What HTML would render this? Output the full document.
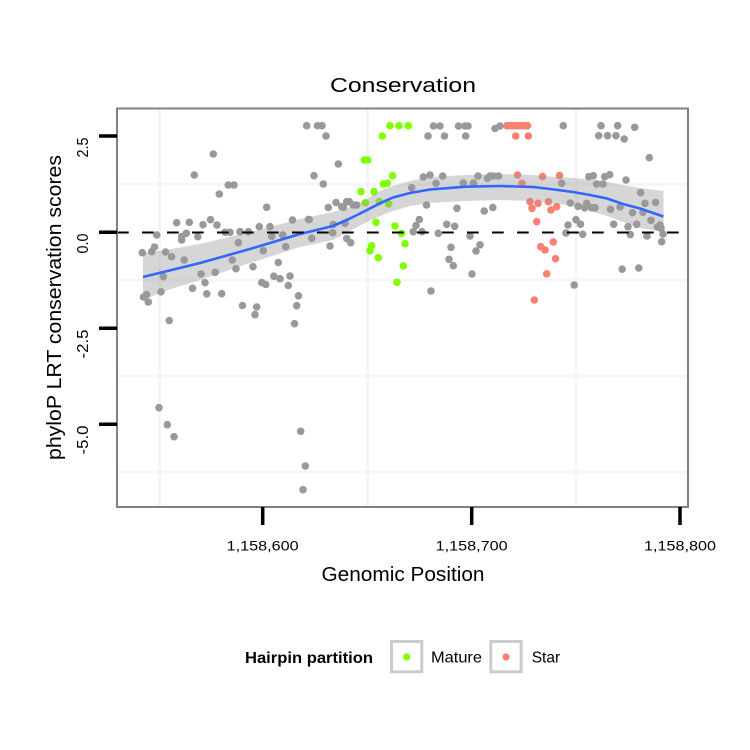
<!DOCTYPE html>
<html>
<head>
<meta charset="utf-8">
<style>
html,body{margin:0;padding:0;background:#fff;}
svg{display:block;}
text{font-family:"Liberation Sans",Arial,sans-serif;fill:#000;}
</style>
</head>
<body>
<svg width="750" height="750" viewBox="0 0 750 750" xmlns="http://www.w3.org/2000/svg">
<rect x="0" y="0" width="750" height="750" fill="#fff"/>
<!-- panel -->
<rect x="117" y="108" width="571" height="399" fill="#fff"/>
<!-- minor grid -->
<g stroke="#f5f5f5" stroke-width="3">
<line x1="159.5" y1="109" x2="159.5" y2="506"/>
<line x1="367.5" y1="109" x2="367.5" y2="506"/>
<line x1="576" y1="109" x2="576" y2="506"/>
<line x1="118" y1="184.3" x2="687" y2="184.3"/>
<line x1="118" y1="280.3" x2="687" y2="280.3"/>
<line x1="118" y1="376.3" x2="687" y2="376.3"/>
<line x1="118" y1="472.3" x2="687" y2="472.3"/>
</g>
<!-- gray points -->
<g fill="#999999">
<circle cx="142.3" cy="252.7" r="3.8"/><circle cx="151.7" cy="251.7" r="3.8"/><circle cx="154.5" cy="247" r="3.8"/><circle cx="156.7" cy="235" r="3.8"/><circle cx="165.5" cy="252" r="3.8"/><circle cx="171.5" cy="256.7" r="3.8"/>
<circle cx="176.7" cy="222.7" r="3.8"/><circle cx="189.3" cy="222.3" r="3.8"/><circle cx="203" cy="224.7" r="3.8"/><circle cx="210.5" cy="219.7" r="3.8"/><circle cx="217" cy="225" r="3.8"/>
<circle cx="181.7" cy="236.5" r="3.8"/><circle cx="186.3" cy="233.3" r="3.8"/><circle cx="181.7" cy="240" r="3.8"/><circle cx="197.8" cy="236.7" r="3.8"/>
<circle cx="213.3" cy="154" r="3.8"/><circle cx="194.3" cy="175" r="3.8"/><circle cx="228.3" cy="185" r="3.8"/><circle cx="234" cy="185" r="3.8"/><circle cx="219.3" cy="194" r="3.8"/>
<circle cx="225" cy="232.3" r="3.8"/><circle cx="230" cy="232.3" r="3.8"/><circle cx="240" cy="231.7" r="3.8"/><circle cx="248.3" cy="231.7" r="3.8"/><circle cx="259.3" cy="226.7" r="3.8"/><circle cx="270" cy="226.7" r="3.8"/><circle cx="271.7" cy="236.3" r="3.8"/><circle cx="282.7" cy="235" r="3.8"/><circle cx="285.7" cy="246.7" r="3.8"/>
<circle cx="238.3" cy="242.7" r="3.8"/><circle cx="263.3" cy="250.7" r="3.8"/><circle cx="266.7" cy="207.3" r="3.8"/><circle cx="292.5" cy="220" r="3.8"/><circle cx="308.5" cy="219.5" r="3.8"/>
<circle cx="184.2" cy="260" r="3.8"/><circle cx="232.3" cy="260" r="3.8"/><circle cx="278.3" cy="262.5" r="3.8"/>
<circle cx="236" cy="268.7" r="3.8"/><circle cx="253" cy="266.7" r="3.8"/>
<circle cx="163.3" cy="276.7" r="3.8"/><circle cx="201" cy="274" r="3.8"/><circle cx="215.2" cy="272.3" r="3.8"/><circle cx="273.8" cy="276.2" r="3.8"/><circle cx="280" cy="278.7" r="3.8"/><circle cx="290" cy="276" r="3.8"/>
<circle cx="205" cy="282.7" r="3.8"/><circle cx="261.7" cy="282.5" r="3.8"/><circle cx="265.7" cy="284.5" r="3.8"/><circle cx="288.3" cy="285.5" r="3.8"/>
<circle cx="192.5" cy="288.3" r="3.8"/><circle cx="161" cy="291.8" r="3.8"/><circle cx="206.8" cy="293.8" r="3.8"/><circle cx="221.7" cy="293.7" r="3.8"/>
<circle cx="146.5" cy="294.5" r="3.8"/><circle cx="143.5" cy="297" r="3.8"/><circle cx="148.3" cy="302" r="3.8"/><circle cx="298.5" cy="295.8" r="3.8"/>
<circle cx="242.5" cy="305.5" r="3.8"/><circle cx="256.7" cy="307" r="3.8"/><circle cx="255" cy="314.7" r="3.8"/><circle cx="296.7" cy="305.7" r="3.8"/>
<circle cx="169.2" cy="320.5" r="3.8"/><circle cx="294.5" cy="323.7" r="3.8"/>
<circle cx="159" cy="407.7" r="3.8"/><circle cx="167.3" cy="424.7" r="3.8"/><circle cx="174" cy="436.7" r="3.8"/><circle cx="300.7" cy="431.3" r="3.8"/><circle cx="305.3" cy="466" r="3.8"/><circle cx="303" cy="489.7" r="3.8"/>
<circle cx="306.7" cy="125.7" r="3.8"/><circle cx="317.5" cy="125.7" r="3.8"/><circle cx="322" cy="125.7" r="3.8"/><circle cx="326" cy="136" r="3.8"/><circle cx="338.3" cy="164" r="3.8"/><circle cx="314" cy="175.7" r="3.8"/><circle cx="323.3" cy="184" r="3.8"/>
<circle cx="336" cy="202.5" r="3.8"/><circle cx="341.7" cy="206.7" r="3.8"/><circle cx="343.3" cy="207.5" r="3.8"/><circle cx="349.3" cy="201.7" r="3.8"/><circle cx="353.3" cy="205" r="3.8"/><circle cx="356.7" cy="205" r="3.8"/><circle cx="328.3" cy="207.5" r="3.8"/><circle cx="346.7" cy="201.7" r="3.8"/>
<circle cx="309.3" cy="219.5" r="3.8"/><circle cx="333.3" cy="224.5" r="3.8"/><circle cx="345" cy="223.3" r="3.8"/><circle cx="332.7" cy="232.7" r="3.8"/><circle cx="311.7" cy="238.3" r="3.8"/><circle cx="346.7" cy="238.5" r="3.8"/><circle cx="350.7" cy="242.7" r="3.8"/><circle cx="330" cy="246" r="3.8"/>
<circle cx="419.3" cy="219.5" r="3.8"/><circle cx="416" cy="225.5" r="3.8"/><circle cx="413.3" cy="231.7" r="3.8"/><circle cx="422" cy="231.7" r="3.8"/><circle cx="426.5" cy="205" r="3.8"/><circle cx="431" cy="291" r="3.8"/>
<circle cx="433.5" cy="126" r="3.8"/><circle cx="440" cy="126" r="3.8"/><circle cx="458.5" cy="126" r="3.8"/><circle cx="465" cy="126" r="3.8"/><circle cx="468" cy="126" r="3.8"/><circle cx="495" cy="128.5" r="3.8"/><circle cx="500" cy="126" r="3.8"/>
<circle cx="428" cy="136" r="3.8"/><circle cx="444.5" cy="136" r="3.8"/><circle cx="465.7" cy="136" r="3.8"/>
<circle cx="423.3" cy="177" r="3.8"/><circle cx="430" cy="175" r="3.8"/><circle cx="442.7" cy="176" r="3.8"/><circle cx="436" cy="183.3" r="3.8"/><circle cx="463.3" cy="183" r="3.8"/><circle cx="473.5" cy="183" r="3.8"/><circle cx="478" cy="176" r="3.8"/><circle cx="487.5" cy="178.3" r="3.8"/><circle cx="493.3" cy="176" r="3.8"/><circle cx="498.5" cy="176" r="3.8"/><circle cx="490" cy="176" r="3.8"/>
<circle cx="411.7" cy="187.7" r="3.8"/><circle cx="457" cy="208.3" r="3.8"/><circle cx="484.2" cy="211" r="3.8"/><circle cx="492.8" cy="207.5" r="3.8"/>
<circle cx="446.7" cy="224.3" r="3.8"/><circle cx="454.7" cy="226.3" r="3.8"/><circle cx="438.3" cy="233.3" r="3.8"/><circle cx="470" cy="236" r="3.8"/>
<circle cx="480" cy="244.8" r="3.8"/><circle cx="476" cy="251" r="3.8"/><circle cx="451" cy="247.3" r="3.8"/><circle cx="449" cy="259.3" r="3.8"/><circle cx="453.3" cy="265.7" r="3.8"/><circle cx="472" cy="274" r="3.8"/>
<circle cx="563.3" cy="125.7" r="3.8"/><circle cx="601" cy="125.7" r="3.8"/><circle cx="617.7" cy="125.7" r="3.8"/><circle cx="634.7" cy="127.3" r="3.8"/><circle cx="598.7" cy="135.7" r="3.8"/><circle cx="607.5" cy="135.7" r="3.8"/><circle cx="616" cy="135.7" r="3.8"/><circle cx="624.2" cy="139" r="3.8"/><circle cx="649.3" cy="157.7" r="3.8"/>
<circle cx="588.8" cy="176.7" r="3.8"/><circle cx="593.3" cy="175.8" r="3.8"/><circle cx="604.7" cy="176.7" r="3.8"/><circle cx="609.7" cy="174.7" r="3.8"/><circle cx="596.7" cy="184" r="3.8"/><circle cx="603" cy="184" r="3.8"/><circle cx="626" cy="180" r="3.8"/><circle cx="640.7" cy="192.7" r="3.8"/><circle cx="561.7" cy="183.3" r="3.8"/>
<circle cx="570.3" cy="203" r="3.8"/><circle cx="578" cy="206.3" r="3.8"/><circle cx="584.7" cy="207.8" r="3.8"/><circle cx="586.7" cy="203.3" r="3.8"/><circle cx="591.7" cy="207.7" r="3.8"/><circle cx="595" cy="207.7" r="3.8"/><circle cx="610.5" cy="209.3" r="3.8"/><circle cx="620" cy="207" r="3.8"/><circle cx="632.5" cy="212.7" r="3.8"/><circle cx="643" cy="212.3" r="3.8"/><circle cx="645" cy="203.3" r="3.8"/><circle cx="655.5" cy="202.5" r="3.8"/>
<circle cx="576" cy="219.7" r="3.8"/><circle cx="580.5" cy="224.2" r="3.8"/><circle cx="568" cy="225" r="3.8"/><circle cx="613.7" cy="224.2" r="3.8"/><circle cx="628" cy="226.7" r="3.8"/><circle cx="636.7" cy="224.3" r="3.8"/><circle cx="651" cy="220.3" r="3.8"/><circle cx="657.5" cy="227" r="3.8"/><circle cx="661" cy="228.3" r="3.8"/><circle cx="660" cy="225" r="3.8"/>
<circle cx="566" cy="233" r="3.8"/><circle cx="582.7" cy="234.3" r="3.8"/><circle cx="630.3" cy="234.6" r="3.8"/><circle cx="647" cy="236" r="3.8"/><circle cx="663" cy="234" r="3.8"/><circle cx="661.7" cy="241.7" r="3.8"/>
<circle cx="622.2" cy="269.2" r="3.8"/><circle cx="638.8" cy="268" r="3.8"/><circle cx="574.2" cy="285" r="3.8"/>
</g>
<!-- green points -->
<g fill="#7FFF00">
<circle cx="390" cy="125.7" r="3.8"/><circle cx="399" cy="125.7" r="3.8"/><circle cx="408.3" cy="125.7" r="3.8"/><circle cx="382.3" cy="136" r="3.8"/><circle cx="364.3" cy="160" r="3.8"/><circle cx="367.7" cy="160" r="3.8"/><circle cx="392.7" cy="175.7" r="3.8"/><circle cx="383.3" cy="184" r="3.8"/><circle cx="387.3" cy="183.3" r="3.8"/><circle cx="361" cy="191.7" r="3.8"/><circle cx="374" cy="191.7" r="3.8"/><circle cx="365.3" cy="202.7" r="3.8"/><circle cx="379.3" cy="201.7" r="3.8"/><circle cx="388.7" cy="204" r="3.8"/><circle cx="376" cy="222.3" r="3.8"/><circle cx="395" cy="226" r="3.8"/><circle cx="401.5" cy="233.3" r="3.8"/><circle cx="405" cy="243.7" r="3.8"/><circle cx="371.7" cy="245.7" r="3.8"/><circle cx="370" cy="250.7" r="3.8"/><circle cx="378.3" cy="257.7" r="3.8"/><circle cx="403.3" cy="266" r="3.8"/><circle cx="397" cy="282.3" r="3.8"/>
</g>
<!-- salmon points -->
<g fill="#FA8072">
<circle cx="507" cy="125.7" r="3.8"/><circle cx="510" cy="125.7" r="3.8"/><circle cx="513" cy="125.7" r="3.8"/><circle cx="516" cy="125.7" r="3.8"/><circle cx="519" cy="125.7" r="3.8"/><circle cx="522" cy="125.7" r="3.8"/><circle cx="525" cy="125.7" r="3.8"/><circle cx="527.5" cy="125.7" r="3.8"/>
<circle cx="515.7" cy="136" r="3.8"/><circle cx="528.3" cy="136" r="3.8"/>
<circle cx="517.5" cy="175" r="3.8"/><circle cx="542.5" cy="176.5" r="3.8"/><circle cx="559.5" cy="175.5" r="3.8"/><circle cx="522" cy="183.3" r="3.8"/>
<circle cx="530" cy="201.7" r="3.8"/><circle cx="538" cy="203.3" r="3.8"/><circle cx="548.5" cy="201.7" r="3.8"/><circle cx="556.7" cy="206.7" r="3.8"/><circle cx="532" cy="208.3" r="3.8"/><circle cx="551" cy="210" r="3.8"/>
<circle cx="536.7" cy="221.7" r="3.8"/>
<circle cx="540.7" cy="246.7" r="3.8"/><circle cx="545" cy="250" r="3.8"/><circle cx="553.3" cy="242" r="3.8"/><circle cx="555.5" cy="258.7" r="3.8"/><circle cx="546.7" cy="273.8" r="3.8"/><circle cx="534.3" cy="300" r="3.8"/>
</g>
<!-- ribbon -->
<path d="M143,253 L165,250 L200,244 L250,232 L300,219 L333,212 L350,207 L367,199 L380,191 L393,186 L410,181 L430,177 L466,175 L500,174 L533,175 L550,176.5 L573,178 L590,179.5 L607,182 L623,185 L640,188 L663.5,191 L663.5,232 L640,228 L623,222 L607,216 L590,211 L573,206 L550,203 L533,201 L500,200 L466,201 L430,203 L410,206 L393,211 L380,216 L367,222 L350,231 L333,240 L300,247 L250,263 L200,280 L165,291 L143,300 Z" fill="#999999" fill-opacity="0.4"/>
<!-- smooth line -->
<polyline points="143,277 200,263 250,249 300,234 333,226 350,218.5 367,210 380,203.3 393,197.5 410,193 430,189.5 466,186.7 500,186 533,187 550,189 573,192 590,195 607,198.5 623,204 640,208.5 663.5,216.5" fill="none" stroke="#3366FF" stroke-width="2.6" stroke-linejoin="round"/>
<!-- dashed hline -->
<line x1="117" y1="232.5" x2="688" y2="232.5" stroke="#000" stroke-width="2" stroke-dasharray="11.7,13.3"/>
<!-- panel border -->
<rect x="117" y="108.5" width="571" height="398.5" fill="none" stroke="#808080" stroke-width="2"/>
<!-- y ticks -->
<g stroke="#000" stroke-width="3.5">
<line x1="99" y1="136" x2="117" y2="136"/>
<line x1="99" y1="232.3" x2="117" y2="232.3"/>
<line x1="99" y1="328.3" x2="117" y2="328.3"/>
<line x1="99" y1="424.3" x2="117" y2="424.3"/>
</g>
<!-- x ticks -->
<g stroke="#000" stroke-width="3.5">
<line x1="262.7" y1="507" x2="262.7" y2="525"/>
<line x1="471.7" y1="507" x2="471.7" y2="525"/>
<line x1="680" y1="507" x2="680" y2="525"/>
</g>
<!-- y tick labels -->
<g font-size="16" text-anchor="end">
<text transform="translate(88,137.5) rotate(-90)" textLength="20" lengthAdjust="spacingAndGlyphs">2.5</text>
<text transform="translate(88,233.5) rotate(-90)" textLength="20" lengthAdjust="spacingAndGlyphs">0.0</text>
<text transform="translate(88,329.5) rotate(-90)" textLength="29" lengthAdjust="spacingAndGlyphs">-2.5</text>
<text transform="translate(88,425.5) rotate(-90)" textLength="29" lengthAdjust="spacingAndGlyphs">-5.0</text>
</g>
<!-- x tick labels -->
<g font-size="14" text-anchor="middle">
<text x="262.7" y="550.5" textLength="72" lengthAdjust="spacingAndGlyphs">1,158,600</text>
<text x="471.7" y="550.5" textLength="72" lengthAdjust="spacingAndGlyphs">1,158,700</text>
<text x="680" y="550.5" textLength="72" lengthAdjust="spacingAndGlyphs">1,158,800</text>
</g>
<!-- axis titles -->
<text x="403" y="581" font-size="20" text-anchor="middle" textLength="163" lengthAdjust="spacingAndGlyphs">Genomic Position</text>
<text transform="translate(61,307.5) rotate(-90)" font-size="20.5" text-anchor="middle" textLength="305" lengthAdjust="spacingAndGlyphs">phyloP LRT conservation scores</text>
<!-- title -->
<text x="403" y="92" font-size="20" text-anchor="middle" textLength="146" lengthAdjust="spacingAndGlyphs">Conservation</text>
<!-- legend -->
<text x="245" y="663" font-size="15.5" font-weight="bold" textLength="128" lengthAdjust="spacingAndGlyphs">Hairpin partition</text>
<rect x="391.5" y="641.5" width="30.3" height="30.3" fill="#fff" stroke="#cccccc" stroke-width="3"/>
<circle cx="406.7" cy="657" r="3.6" fill="#7FFF00"/>
<text x="431" y="662.5" font-size="16" textLength="51" lengthAdjust="spacingAndGlyphs">Mature</text>
<rect x="490.8" y="641.5" width="30.3" height="30.3" fill="#fff" stroke="#cccccc" stroke-width="3"/>
<circle cx="506" cy="657" r="3.6" fill="#FA8072"/>
<text x="531.7" y="662.5" font-size="16" textLength="28.5" lengthAdjust="spacingAndGlyphs">Star</text>
</svg>
</body>
</html>
